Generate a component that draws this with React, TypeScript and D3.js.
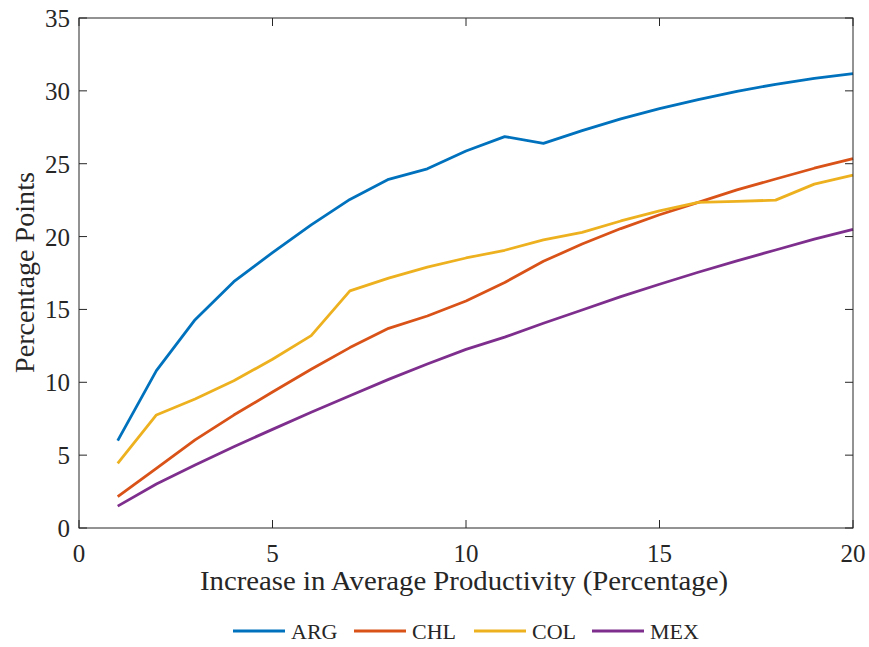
import * as d3 from "d3";
import { useEffect, useRef } from "react";

const productivity = [1, 2, 3, 4, 5, 6, 7, 8, 9, 10, 11, 12, 13, 14, 15, 16, 17, 18, 19, 20];

const arg = [6.0, 10.8, 14.3, 16.9, 18.9, 20.8, 22.55, 23.93, 24.65, 25.87, 26.86, 26.4, 27.27, 28.08, 28.78, 29.4, 29.97, 30.45, 30.86, 31.18];
const chl = [2.15, 4.1, 6.05, 7.75, 9.33, 10.89, 12.38, 13.7, 14.55, 15.58, 16.85, 18.3, 19.49, 20.55, 21.5, 22.35, 23.2, 23.95, 24.69, 25.35];
const col = [4.44, 7.76, 8.85, 10.1, 11.58, 13.2, 16.27, 17.15, 17.9, 18.53, 19.06, 19.77, 20.29, 21.07, 21.76, 22.35, 22.42, 22.5, 23.6, 24.22];
const mex = [1.5, 3.02, 4.32, 5.58, 6.77, 7.94, 9.08, 10.2, 11.26, 12.26, 13.1, 14.05, 14.96, 15.88, 16.73, 17.55, 18.33, 19.08, 19.83, 20.5];

const seriesNames = ["ARG", "CHL", "COL", "MEX"];
const seriesValues = [arg, chl, col, mex];
const seriesColors = ["#0072BD", "#D95319", "#EDB120", "#7E2F8E"];

const xTicks = [0, 5, 10, 15, 20];
const yTicks = [0, 5, 10, 15, 20, 25, 30, 35];

const App = () => {
  const ref = useRef<SVGSVGElement | null>(null);

  useEffect(() => {
    const width = 869;
    const height = 647;
    const margin = { top: 18, right: 16, bottom: 119, left: 79 };
    const font = "'Liberation Serif', 'Times New Roman', serif";
    const axisColor = "#262626";

    const svg = d3.select(ref.current);
    svg.selectAll("*").remove();
    svg.attr("width", width).attr("height", height);

    const x = d3.scaleLinear().domain([0, 20]).range([margin.left, width - margin.right]);
    const y = d3.scaleLinear().domain([0, 35]).range([height - margin.bottom, margin.top]);

    // ticks point inward, on all four sides (box on)
    const tickLen = 8;
    const g = svg.append("g").attr("stroke", axisColor).attr("stroke-width", 1);
    xTicks.forEach((t) => {
      g.append("line").attr("x1", x(t)).attr("x2", x(t)).attr("y1", y(0)).attr("y2", y(0) - tickLen);
      g.append("line").attr("x1", x(t)).attr("x2", x(t)).attr("y1", y(35)).attr("y2", y(35) + tickLen);
    });
    yTicks.forEach((t) => {
      g.append("line").attr("x1", x(0)).attr("x2", x(0) + tickLen).attr("y1", y(t)).attr("y2", y(t));
      g.append("line").attr("x1", x(20)).attr("x2", x(20) - tickLen).attr("y1", y(t)).attr("y2", y(t));
    });

    const line = d3
      .line<number>()
      .x((_, i) => x(productivity[i]))
      .y((d) => y(d));

    seriesValues.forEach((vals, i) => {
      svg
        .append("path")
        .datum(vals)
        .attr("d", line)
        .attr("fill", "none")
        .attr("stroke", seriesColors[i])
        .attr("stroke-width", 2.8)
        .attr("stroke-linejoin", "round");
    });

    svg
      .append("rect")
      .attr("x", x(0))
      .attr("y", y(35))
      .attr("width", x(20) - x(0))
      .attr("height", y(0) - y(35))
      .attr("fill", "none")
      .attr("stroke", axisColor)
      .attr("stroke-width", 1);

    // tick labels
    svg
      .selectAll(".xl")
      .data(xTicks)
      .enter()
      .append("text")
      .attr("x", (d) => x(d))
      .attr("y", y(0) + 34)
      .attr("text-anchor", "middle")
      .attr("font-family", font)
      .attr("font-size", 25)
      .attr("fill", axisColor)
      .text((d) => d);

    svg
      .selectAll(".yl")
      .data(yTicks)
      .enter()
      .append("text")
      .attr("x", x(0) - 9)
      .attr("y", (d) => y(d) + 9)
      .attr("text-anchor", "end")
      .attr("font-family", font)
      .attr("font-size", 25)
      .attr("fill", axisColor)
      .text((d) => d);

    // axis titles
    svg
      .append("text")
      .attr("x", 200)
      .attr("y", 590)
      .attr("font-family", font)
      .attr("font-size", 27)
      .attr("fill", axisColor)
      .attr("textLength", 528)
      .attr("lengthAdjust", "spacingAndGlyphs")
      .text("Increase in Average Productivity (Percentage)");

    svg
      .append("text")
      .attr("transform", `translate(34, ${(y(0) + y(35)) / 2}) rotate(-90)`)
      .attr("x", -100)
      .attr("font-family", font)
      .attr("font-size", 27)
      .attr("fill", axisColor)
      .attr("textLength", 201)
      .attr("lengthAdjust", "spacingAndGlyphs")
      .text("Percentage Points");

    // legend
    const legendX = [233, 354, 474, 592];
    const legendY = 631;
    seriesNames.forEach((name, i) => {
      const lg = svg.append("g").attr("transform", `translate(${legendX[i]}, ${legendY})`);
      lg.append("line")
        .attr("x1", 0)
        .attr("x2", 52)
        .attr("y1", 0)
        .attr("y2", 0)
        .attr("stroke", seriesColors[i])
        .attr("stroke-width", 2.8);
      lg.append("text")
        .attr("x", 58)
        .attr("y", 8)
        .attr("font-family", font)
        .attr("font-size", 22)
        .attr("fill", axisColor)
        .text(name);
    });
  }, []);

  return (
    <div style={{ position: "absolute", left: 0, top: 0, background: "#fff" }}>
      <svg ref={ref} style={{ display: "block" }}></svg>
    </div>
  );
};

export default App;
